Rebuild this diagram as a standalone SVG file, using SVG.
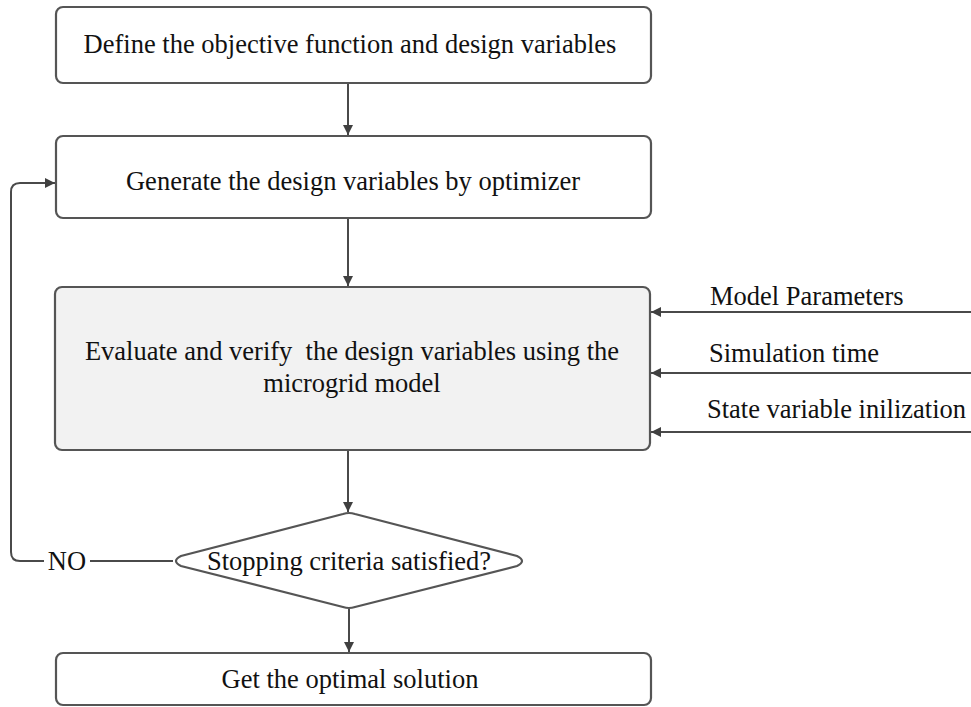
<svg xmlns="http://www.w3.org/2000/svg" width="971" height="707" viewBox="0 0 971 707">
  <style>
    .box { fill: #ffffff; stroke: #555555; stroke-width: 2.2; }
    .proc { fill: #f2f2f2; stroke: #555555; stroke-width: 2.2; }
    .lbl { font-family: "Liberation Serif", "Times New Roman", serif; font-size: 26.5px; fill: #111111; white-space: pre; }
    .mid { text-anchor: middle; }
    .edge { fill: none; stroke: #4a4a4a; stroke-width: 2; }
  </style>
  <defs>
    <marker id="arrow" viewBox="0 0 10 10" refX="10" refY="5" markerWidth="10" markerHeight="10" markerUnits="userSpaceOnUse" orient="auto">
      <path d="M0,0 L10,5 L0,10 Z" fill="#404040"/>
    </marker>
  </defs>

  <rect width="971" height="707" fill="#ffffff"/>

  <g id="connectors">
    <line class="edge" x1="348" y1="83" x2="348" y2="135" marker-end="url(#arrow)"/>
    <line class="edge" x1="348" y1="218" x2="348" y2="286" marker-end="url(#arrow)"/>
    <line class="edge" x1="348" y1="450" x2="348" y2="512" marker-end="url(#arrow)"/>
    <line class="edge" x1="349" y1="609" x2="349" y2="652" marker-end="url(#arrow)"/>
    <!-- NO branch loops back to the optimizer step -->
    <path class="edge" d="M173,561 H90"/>
    <path class="edge" d="M44,561 H20 Q11,561 11,552 V192 Q11,183 20,183 H55" marker-end="url(#arrow)"/>
    <text class="lbl mid" x="67" y="570">NO</text>
    <!-- external inputs to the model -->
    <line class="edge" x1="971" y1="312" x2="651" y2="312" marker-end="url(#arrow)"/>
    <line class="edge" x1="971" y1="373" x2="651" y2="373" marker-end="url(#arrow)"/>
    <line class="edge" x1="971" y1="432" x2="651" y2="432" marker-end="url(#arrow)"/>
    <text class="lbl" x="710" y="305">Model Parameters</text>
    <text class="lbl" x="709" y="362">Simulation time</text>
    <text class="lbl" x="707" y="418">State variable inilization</text>
  </g>

  <g id="define">
    <rect class="box" x="56" y="7" width="595" height="76" rx="7"/>
    <text class="lbl mid" x="350" y="53">Define the objective function and design variables</text>
  </g>

  <g id="generate">
    <rect class="box" x="56" y="136" width="595" height="82" rx="7"/>
    <text class="lbl mid" x="353" y="190">Generate the design variables by optimizer</text>
  </g>

  <g id="evaluate">
    <rect class="proc" x="55" y="287" width="595" height="163" rx="7"/>
    <text class="lbl mid" x="352" y="360">Evaluate and verify  the design variables using the</text>
    <text class="lbl mid" x="352" y="392">microgrid model</text>
  </g>

  <g id="stopping">
    <path class="box" d="M343,514 Q349,512 355,514 L517,556 Q527,561 517,566 L355,607 Q349,609 343,607 L181,566 Q171,561 181,556 Z"/>
    <text class="lbl mid" x="349" y="570">Stopping criteria satisfied?</text>
  </g>

  <g id="result">
    <rect class="box" x="56" y="653" width="595" height="52" rx="7"/>
    <text class="lbl mid" x="350" y="688">Get the optimal solution</text>
  </g>
</svg>
